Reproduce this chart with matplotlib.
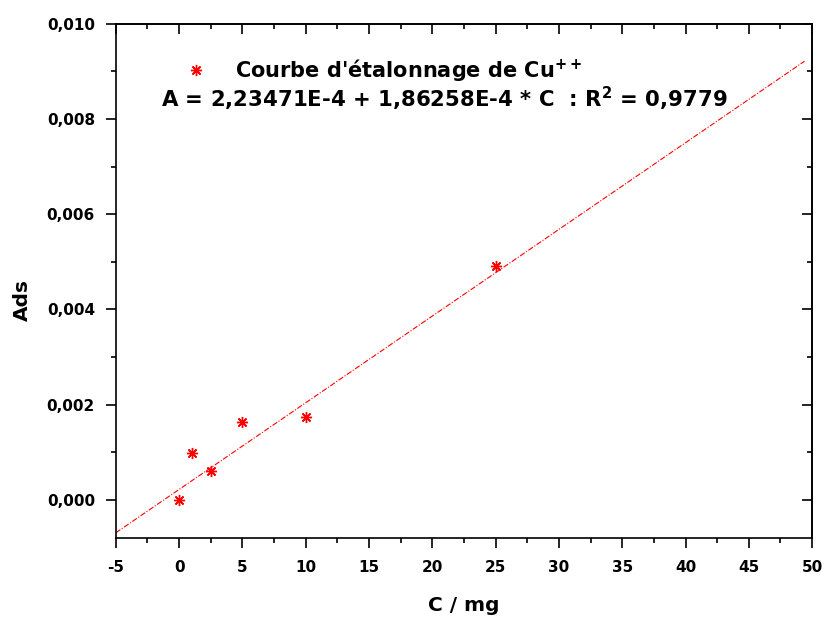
#!/usr/bin/env python3
"""Calibration curve for Cu++ (absorbance vs concentration), Origin-style
look: bold text, outward ticks bottom/left, inward top/right."""

import numpy as np
import matplotlib
matplotlib.use("Agg")
import matplotlib.pyplot as plt
from matplotlib.ticker import MultipleLocator, FuncFormatter

# measured points
conc = [0, 1, 2.5, 5, 10, 25]
absorb = [0.0, 0.00099, 0.00061, 0.00163, 0.00175, 0.00491]

# fitted line as drawn on the chart
fit_intercept = 2.2e-4
fit_slope = 1.82e-4
fit_x = [-5, 49.4]

legend_label = "Courbe d'étalonnage de Cu$^{++}$"
equation = "A = 2,23471E-4 + 1,86258E-4 * C  : R$^2$ = 0,9779"

# the original text is wide-ish Arial; DejaVu Sans Bold matches its
# footprint better than Liberation Sans does
plt.rcParams["font.family"] = ["DejaVu Sans"]
plt.rcParams["font.weight"] = "bold"
plt.rcParams["mathtext.fontset"] = "dejavusans"
plt.rcParams["mathtext.default"] = "bf"

RED = "#ff0000"

fig = plt.figure(figsize=(8.27, 6.22), dpi=100)
ax = fig.add_axes([0.140, 0.135, 0.842, 0.827])

# asterisk marker (8 arms), like Origin's star
ax.plot(conc, absorb, linestyle="none", marker=(8, 2, 0), markersize=8,
        markeredgewidth=1.0, color=RED, label=legend_label)

fx = np.array(fit_x)
ax.plot(fx, fit_intercept + fit_slope * fx, color=RED, linewidth=0.8,
        linestyle=(0, (5, 1.5, 1, 1.5)))

ax.set_xlim(-5, 50)
ax.set_ylim(-0.0008, 0.010)
ax.xaxis.set_major_locator(MultipleLocator(5))
ax.xaxis.set_minor_locator(MultipleLocator(2.5))
ax.yaxis.set_major_locator(MultipleLocator(0.002))
ax.yaxis.set_minor_locator(MultipleLocator(0.001))
ax.yaxis.set_major_formatter(
    FuncFormatter(lambda v, p: f"{v:.3f}".replace(".", ",").replace("-0,000", "0,000")))
ax.xaxis.set_major_formatter(FuncFormatter(lambda v, p: f"{v:g}"))

for s in ax.spines.values():
    s.set_linewidth(1.2)

# Origin look: out on bottom/left, in on top/right
ax.tick_params(axis="both", which="major", direction="out", length=7,
               width=1.2, labelsize=11)
ax.tick_params(axis="both", which="minor", direction="out", length=3.5,
               width=1.2)
ax.tick_params(axis="x", which="major", pad=9)
ax.tick_params(axis="y", which="major", pad=8)

ax2 = ax.secondary_xaxis("top")
ax2.xaxis.set_major_locator(MultipleLocator(5))
ax2.xaxis.set_minor_locator(MultipleLocator(2.5))
ax2.tick_params(which="major", direction="in", length=7, width=1.2,
                labeltop=False)
ax2.tick_params(which="minor", direction="in", length=3.5, width=1.2)
ay2 = ax.secondary_yaxis("right")
ay2.yaxis.set_major_locator(MultipleLocator(0.002))
ay2.yaxis.set_minor_locator(MultipleLocator(0.001))
ay2.tick_params(which="major", direction="in", length=7, width=1.2,
                labelright=False)
ay2.tick_params(which="minor", direction="in", length=3.5, width=1.2)
for sec in (ax2, ay2):
    for s in sec.spines.values():
        s.set_linewidth(1.2)

ax.set_xlabel("C / mg", fontsize=14.5, fontweight="bold", labelpad=15)
ax.set_ylabel("Ads", fontsize=14.5, fontweight="bold")
# Origin put the y title a bit below the axis middle
ax.yaxis.set_label_coords(-0.121, 0.462)

leg = ax.legend(loc="upper left", bbox_to_anchor=(0.07, 0.971),
                frameon=False, handletextpad=1.3, handlelength=1.2,
                prop={"weight": "bold", "size": 15})
fig.text(0.538, 1 - 107 / 622, equation, ha="center", va="baseline",
         fontsize=15.3, fontweight="bold")

fig.savefig("out.png", dpi=100)
